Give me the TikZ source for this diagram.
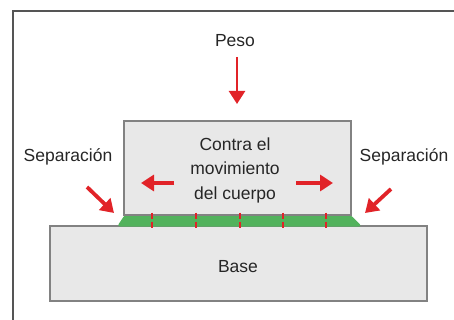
\documentclass[tikz,border=0pt]{standalone}
\usepackage{fontspec}
\setmainfont{Liberation Sans}
\usetikzlibrary{arrows.meta}
\definecolor{blockfill}{RGB}{232,232,232}
\definecolor{blockline}{RGB}{130,130,130}
\definecolor{glue}{RGB}{82,178,92}
\definecolor{arrred}{RGB}{225,35,40}
\definecolor{framec}{RGB}{85,85,85}
\tikzset{
  block/.style={draw=blockline, line width=1.8pt, fill=blockfill, rectangle, inner sep=0pt},
  lbl/.style={font=\fontsize{17.5}{24.5}\selectfont, text=black!85, inner sep=0pt},
  redarrow/.style={draw=arrred, line width=3.8pt, -{Triangle[length=13pt,width=16pt]}, color=arrred},
  seam/.style={draw=arrred, line width=2pt, dash pattern=on 6.5pt off 2.5pt},
}
\begin{document}
\begin{tikzpicture}[x=1pt,y=-1pt]
\useasboundingbox (0,0) rectangle (454,320);
% frame (open on right and bottom)
\draw[framec, line width=1.5pt] (13,320) -- (13,11) -- (454,11);
% base
\node[block, minimum width=377pt, minimum height=75pt] (base) at (238.5,263.5) {};
\node[lbl, anchor=base] (basetxt) at (238,272) {Base};
% adhesive layer
\fill[glue, rounded corners=3pt] (117,226.5) -- (125,214.5) -- (350,214.5) -- (362,226.5) -- cycle;
% body
\node[block, minimum width=227pt, minimum height=94pt] (body) at (237.5,168) {};
\node[lbl, align=center, anchor=center] (bodytxt) at (235,170) {Contra el\\movimiento\\del cuerpo};
% seams
\foreach \x/\n in {152/a,196/b,240/c,283/d,326/e}{
  \coordinate (s\n1) at (\x,212.5);
  \coordinate (s\n2) at (\x,229);
  \draw[seam] (s\n1) -- (s\n2);
}
% labels
\node[lbl, anchor=base] (peso) at (235,47) {Peso};
\node[lbl, anchor=base] (sepl) at (68,162) {Separación};
\node[lbl, anchor=base] (sepr) at (404,162) {Separación};
% arrows
\coordinate (pw1) at (237,57);
\coordinate (pw2) at (237,104);
\draw[redarrow, line width=2.6pt] (pw1) -- (pw2);
\coordinate (la1) at (174,183);
\coordinate (la2) at (141,183);
\draw[redarrow] (la1) -- (la2);
\coordinate (ra1) at (296,183);
\coordinate (ra2) at (333,183);
\draw[redarrow] (ra1) -- (ra2);
\coordinate (dl1) at (87,187);
\coordinate (dl2) at (114,213);
\draw[redarrow] (dl1) -- (dl2);
\coordinate (dr1) at (391,189);
\coordinate (dr2) at (365,213);
\draw[redarrow] (dr1) -- (dr2);
\end{tikzpicture}
\end{document}
